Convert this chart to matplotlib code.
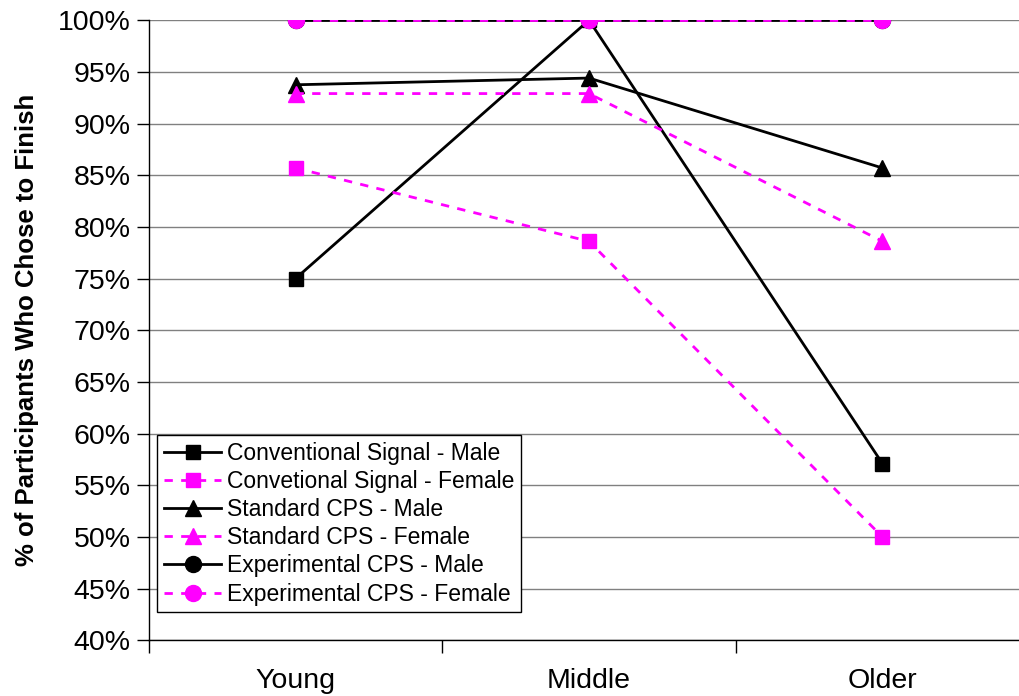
import numpy as np
import matplotlib
matplotlib.use('Agg')
import matplotlib.pyplot as plt
from matplotlib.ticker import FixedLocator, PercentFormatter

plt.rcParams['font.family'] = ['Liberation Sans', 'DejaVu Sans']

# Data (percent who chose to finish)
groups = ['Young', 'Middle', 'Older']
conv_male = [75.0, 100.0, 57.1]
conv_female = [85.7, 78.6, 50.0]
std_male = [93.75, 94.4, 85.7]
std_female = [92.9, 92.9, 78.6]
exp_male = [100.0, 100.0, 100.0]
exp_female = [100.0, 100.0, 100.0]

fig = plt.figure(figsize=(10.19, 6.96), dpi=100)
ax = fig.add_axes([0.146, 0.080, 0.864, 0.891])

x = np.arange(len(groups))
black = dict(color='black', linestyle='-', linewidth=2)
pink = dict(color='#FF00FF', linestyle=(0, (3, 3)), linewidth=2)

ax.plot(x, conv_male, marker='s', markersize=10.5, label='Conventional Signal - Male', **black)
ax.plot(x, conv_female, marker='s', markersize=10.5, label='Convetional Signal - Female', **pink)
ax.plot(x, std_male, marker='^', markersize=11.5, label='Standard CPS - Male', **black)
ax.plot(x, std_female, marker='^', markersize=11.5, label='Standard CPS - Female', **pink)
ax.plot(x, exp_male, marker='o', markersize=11.5, label='Experimental CPS - Male', **black)
ax.plot(x, exp_female, marker='o', markersize=11.5, label='Experimental CPS - Female', **pink)

ax.set_xlim(-0.5, 2.5)
ax.set_ylim(40, 100)
ax.set_yticks(np.arange(40, 101, 5))
ax.yaxis.set_major_formatter(PercentFormatter(decimals=0))
ax.yaxis.grid(True, color='#808080', linewidth=1)
ax.set_axisbelow(True)

ax.set_xticks(x)
ax.set_xticklabels(groups)
ax.xaxis.set_minor_locator(FixedLocator([-0.5, 0.5, 1.5]))
ax.tick_params(axis='x', which='major', length=0, pad=20, labelsize=20.5)
ax.tick_params(axis='x', which='minor', length=9, width=1)
ax.tick_params(axis='y', length=9, width=1, labelsize=20.5, pad=4)

for s in ['top', 'right']:
    ax.spines[s].set_visible(False)
for s in ['left', 'bottom']:
    ax.spines[s].set_linewidth(1)

ax.set_ylabel('% of Participants Who Chose to Finish', fontsize=18.5, fontweight='bold', labelpad=14)

leg = ax.legend(loc='lower left', bbox_to_anchor=(0.0095, 0.045), fontsize=16.5,
                frameon=True, fancybox=False, edgecolor='black', framealpha=1,
                handlelength=2.5, borderpad=0.3, labelspacing=0.22, handletextpad=0.25,
                borderaxespad=0)
leg.get_frame().set_linewidth(1)

fig.savefig('out.png', dpi=100)
